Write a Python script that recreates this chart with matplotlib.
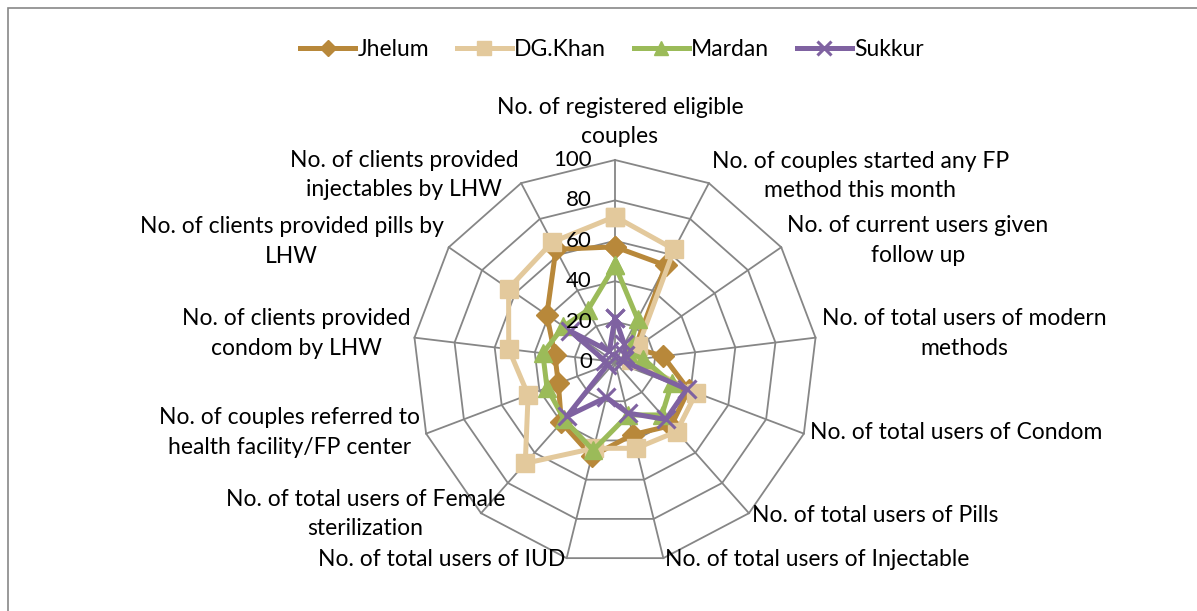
import numpy as np
import matplotlib
matplotlib.use("Agg")
import matplotlib.pyplot as plt
from matplotlib.patches import Rectangle

plt.rcParams['font.family'] = ['Lato', 'DejaVu Sans']

# =============================================================================
# data
# =============================================================================
categories = [
    "No. of registered eligible\ncouples",
    "No. of couples started any FP\nmethod this month",
    "No. of current users given\nfollow up",
    "No. of total users of modern\nmethods",
    "No. of total users of Condom",
    "No. of total users of Pills",
    "No. of total users of Injectable",
    "No. of total users of IUD",
    "No. of total users of Female\nsterilization",
    "No. of couples referred to\nhealth facility/FP center",
    "No. of clients provided\ncondom by LHW",
    "No. of clients provided pills by\nLHW",
    "No. of clients provided\ninjectables by LHW",
]
jhelum  = [57, 54, 12, 24, 39, 42, 37, 48, 40, 30, 30, 41, 63]
dgkhan  = [72, 63, 14, 8, 43, 46, 44, 44, 67, 46, 53, 64, 67]
mardan  = [48, 24, 8, 14, 30, 35, 27, 45, 38, 36, 36, 31, 29]
sukkur  = [22, 10, 6, 4, 38, 38, 26, 18, 36, 4, 5, 27, 6]
rticks  = [0, 20, 40, 60, 80, 100]

series = [
    ("Jhelum", jhelum, "#B8883A", "D", 11),
    ("DG.Khan", dgkhan, "#E3C99C", "s", 13),
    ("Mardan", mardan, "#9BBB59", "^", 13),
    ("Sukkur", sukkur, "#7F62A1", "x", 13),
]

W, H = 1197, 611
fig = plt.figure(figsize=(W / 100, H / 100), dpi=100)

# chart frame (cut off at right and bottom as in the original)
fig.patches.append(Rectangle((8 / W, -0.05), 1.2, 1 - 8 / H + 0.05,
                             transform=fig.transFigure, fill=False,
                             edgecolor="#878787", linewidth=1.2))

cx, cy, R = 615, 362, 202
ax = fig.add_axes([(cx - R) / W, (H - cy - R) / H, 2 * R / W, 2 * R / H],
                  projection="polar")
ax.set_theta_zero_location("N")
ax.set_theta_direction(-1)
ax.set_ylim(0, 100)
ax.grid(False)
ax.set_xticks([])
ax.set_yticks([])
ax.spines["polar"].set_visible(False)
ax.patch.set_alpha(0)

n = len(categories)
theta = np.arange(n) * 2 * np.pi / n
theta_c = np.append(theta, theta[0])

# polygon grid and spokes
for r in rticks[1:]:
    ax.plot(theta_c, [r] * (n + 1), color="#868686", lw=1.3, clip_on=False, zorder=1)
for t in theta:
    ax.plot([t, t], [0, 100], color="#868686", lw=1.3, clip_on=False, zorder=1)

# radial tick labels
for r in rticks:
    ax.annotate(str(r), xy=(0, r), xytext=(-23, 0), textcoords="offset pixels",
                ha="right", va="center", fontsize=16, color="#000000", zorder=5)

# series
for name, vals, col, mk, ms in series:
    v = np.append(vals, vals[0])
    ax.plot(theta_c, v, color=col, lw=3.6, marker=mk, markersize=ms,
            markeredgewidth=2.2 if mk == "x" else 1, markeredgecolor=col,
            markerfacecolor=col, label=name, clip_on=False, zorder=3)

# category labels: (ha, dx, dy) offset from outer vertex, in pixels
lab_pos = [("center", 5, 13), ("left", 3, 7), ("left", 6, 7), ("left", 6, 4),
           ("left", 6, 1), ("left", 3, -2), ("left", 2, -1), ("right", -1, -1),
           ("right", 24, -1), ("right", -6, 1), ("right", -4, 4), ("right", -5, 6),
           ("right", -3, 8)]
for t, lab, (ha, dx, dy) in zip(theta, categories, lab_pos):
    ax.annotate(lab, xy=(t, 100), xytext=(dx, dy), textcoords="offset pixels",
                ha=ha, va="bottom" if ha == "center" else "center",
                multialignment="center", fontsize=16.5, linespacing=1.5,
                annotation_clip=False)

leg = fig.legend(loc="center", bbox_to_anchor=(612 / W, 1 - 50 / H), ncol=4,
                 frameon=False, fontsize=16.5, handlelength=2.4, handletextpad=0.1,
                 columnspacing=1.2, markerscale=0.75)

fig.savefig("out.png", dpi=100)
